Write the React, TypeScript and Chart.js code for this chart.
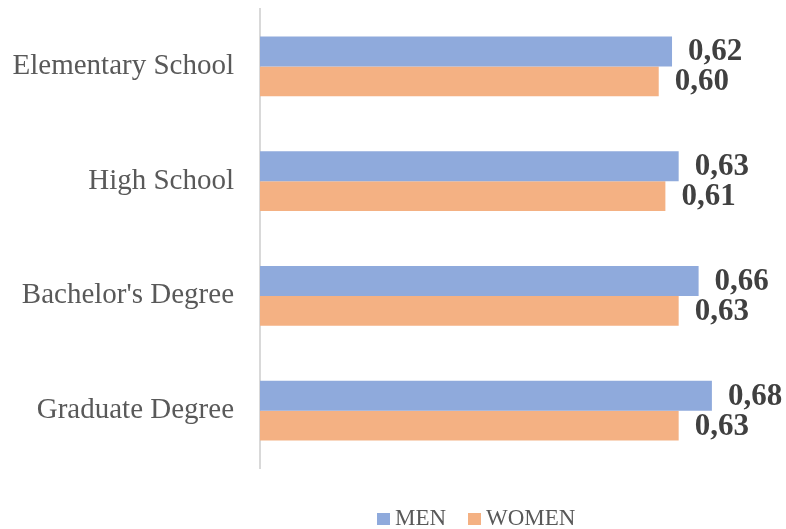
import React, { useEffect, useRef } from "react";
import { Chart, registerables } from "chart.js";

Chart.register(...registerables);

const categories = ["Elementary School", "High School", "Bachelor's Degree", "Graduate Degree"];
const seriesNames = ["MEN", "WOMEN"];
const menValues = [0.62, 0.63, 0.66, 0.68];
const womenValues = [0.6, 0.61, 0.63, 0.63];
const seriesColors = ["#8FAADC", "#F4B183"];

const SERIF = '"Liberation Serif", "Times New Roman", serif';

const labelPlugin = {
  id: "valueLabels",
  afterDatasetsDraw(chart: any) {
    const ctx = chart.ctx;
    ctx.save();
    ctx.font = `bold 31px ${SERIF}`;
    ctx.fillStyle = "#404040";
    ctx.textAlign = "left";
    ctx.textBaseline = "middle";
    chart.data.datasets.forEach((ds: any, di: number) => {
      const meta = chart.getDatasetMeta(di);
      meta.data.forEach((el: any, i: number) => {
        const v = ds.data[i] as number;
        const txt = v.toFixed(2).replace(".", ",");
        ctx.fillText(txt, el.x + 16, el.y + 1);
      });
    });
    ctx.restore();
  },
  afterDraw(chart: any) {
    // legend
    const ctx = chart.ctx;
    ctx.save();
    ctx.font = `23px ${SERIF}`;
    ctx.textAlign = "left";
    ctx.textBaseline = "alphabetic";
    const starts = [377, 468];
    chart.data.datasets.forEach((ds: any, di: number) => {
      const x = starts[di];
      ctx.fillStyle = ds.backgroundColor;
      ctx.fillRect(x, 513, 13, 12);
      ctx.fillStyle = "#595959";
      ctx.fillText(ds.label, x + 18, 525);
    });
    ctx.restore();
  },
};

export default function App() {
  const ref = useRef<HTMLCanvasElement | null>(null);
  useEffect(() => {
    if (!ref.current) return;
    const chart = new Chart(ref.current, {
      type: "bar",
      data: {
        labels: categories,
        datasets: [
          { label: seriesNames[0], data: menValues, backgroundColor: seriesColors[0] },
          { label: seriesNames[1], data: womenValues, backgroundColor: seriesColors[1] },
        ],
      },
      options: {
        indexAxis: "y",
        responsive: false,
        animation: false,
        maintainAspectRatio: false,
        layout: { padding: { top: 9, bottom: 61, left: 0, right: 1 } },
        datasets: {
          bar: { categoryPercentage: 0.52, barPercentage: 1 },
        },
        plugins: { legend: { display: false }, tooltip: { enabled: false } },
        scales: {
          x: { display: false, min: 0, max: 0.79 },
          y: {
            afterFit: (scale: any) => {
              scale.width = 260;
              scale.paddingTop = 0;
              scale.paddingBottom = 0;
            },
            grid: { display: false, drawTicks: false },
            border: { display: true, color: "#D9D9D9", width: 2 },
            ticks: {
              padding: 26,
              color: "#595959",
              font: { family: SERIF, size: 29 },
            },
          },
        },
      },
      plugins: [labelPlugin],
    });
    return () => chart.destroy();
  }, []);
  return (
    <div style={{ position: "fixed", left: 0, top: 0, width: 786, height: 529, background: "#fff" }}>
      <canvas ref={ref} width={786} height={529} style={{ display: "block" }} />
    </div>
  );
}
